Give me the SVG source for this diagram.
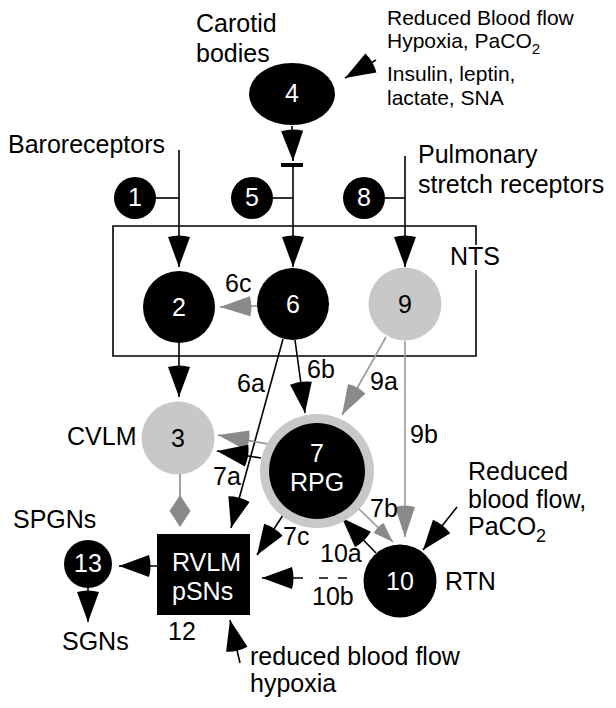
<svg xmlns="http://www.w3.org/2000/svg" width="616" height="708" viewBox="0 0 616 708">
<style>
text{font-family:"Liberation Sans",Arial,sans-serif;font-size:25px;fill:#000}
.w{fill:#fff}
.s{font-size:21px}
.blk{fill:#000}
.gry{fill:#c8c8c8}
.ln{stroke:#000;stroke-width:1.6;fill:none}
.gl{stroke:#999;stroke-width:1.6;fill:none}
.gh{stroke:#8a8a8a;stroke-width:1.6;fill:none}
</style>
<defs>
<marker id="ah" viewBox="-33 -12 34 24" refX="0" refY="0" markerWidth="34" markerHeight="24" markerUnits="userSpaceOnUse" orient="auto"><path d="M0,0 L-30,-11 Q-33,0 -30,11 Z" fill="#000"/></marker>
<marker id="ag" viewBox="-33 -12 34 24" refX="0" refY="0" markerWidth="34" markerHeight="24" markerUnits="userSpaceOnUse" orient="auto"><path d="M0,0 L-30,-10 Q-33,0 -30,10 Z" fill="#8a8a8a"/></marker>
<marker id="as" viewBox="-23 -8 24 16" refX="0" refY="0" markerWidth="24" markerHeight="16" markerUnits="userSpaceOnUse" orient="auto"><path d="M0,0 L-20,-7 Q-22,0 -20,7 Z" fill="#8a8a8a"/></marker>
</defs>

<g id="nts-box">
<path class="ln" d="M476,245 V226 H113 V356 H476 V270"/>
<text x="450" y="265">NTS</text>
</g>

<g id="connectors">
<line class="ln" x1="179" y1="150" x2="179" y2="267" marker-end="url(#ah)"/>
<line class="ln" x1="156" y1="198" x2="179" y2="198"/>
<line class="ln" x1="292" y1="126" x2="293" y2="161" marker-end="url(#ah)"/>
<rect x="281" y="163" width="22" height="4" fill="#000"/>
<line class="ln" x1="293" y1="165" x2="293" y2="267" marker-end="url(#ah)"/>
<line class="ln" x1="273" y1="198" x2="293" y2="198"/>
<line class="ln" x1="405" y1="156" x2="405" y2="267" marker-end="url(#ah)"/>
<line class="ln" x1="385" y1="198" x2="405" y2="198"/>
<line class="ln" x1="376" y1="60" x2="345" y2="78" marker-end="url(#ah)"/>
<line class="gh" x1="257" y1="306" x2="220" y2="307" marker-end="url(#ag)"/>
<line class="ln" x1="179" y1="343" x2="179" y2="397" marker-end="url(#ah)"/>
<line class="ln" x1="283" y1="339" x2="231" y2="528" marker-end="url(#ah)"/>
<line class="ln" x1="295" y1="340" x2="305" y2="413" marker-end="url(#ah)"/>
<line class="gl" x1="386" y1="337" x2="342" y2="415" marker-end="url(#ag)"/>
<line class="gl" x1="405" y1="341" x2="405" y2="537" marker-end="url(#ag)"/>
<line class="gh" x1="268" y1="444" x2="218" y2="435" marker-end="url(#ag)"/>
<line class="ln" x1="261" y1="458" x2="217" y2="451" marker-end="url(#ah)"/>
<line class="gh" x1="180" y1="474" x2="180" y2="496"/>
<polygon points="180,495 190.5,511 180,527 169.5,511" fill="#8a8a8a"/>
<line class="ln" x1="285" y1="512" x2="257" y2="555" marker-end="url(#ah)"/>
<line class="ln" x1="157" y1="566" x2="119" y2="566" marker-end="url(#ah)"/>
<line class="ln" x1="88" y1="588" x2="88" y2="622" marker-end="url(#ah)"/>
<line class="ln" x1="240" y1="663" x2="230" y2="620" marker-end="url(#ah)"/>
<line class="ln" x1="303" y1="578" x2="262" y2="578" marker-end="url(#ah)"/>
<path class="ln" d="M319,578 H328 M338,578 H347"/>
<line class="ln" x1="376" y1="553" x2="342" y2="518" marker-end="url(#ah)"/>
<line class="gl" x1="357" y1="507" x2="393" y2="542" marker-end="url(#as)"/>
<line class="ln" x1="457" y1="507" x2="423" y2="550" marker-end="url(#ah)"/>
</g>

<g id="labels">
<text x="8" y="153">Baroreceptors</text>
<text x="196" y="32">Carotid</text>
<text x="196" y="62">bodies</text>
<text class="s" x="387" y="25">Reduced Blood flow</text>
<text class="s" x="387" y="48">Hypoxia, PaCO<tspan font-size="15" dy="6">2</tspan></text>
<text class="s" x="387" y="81">Insulin, leptin,</text>
<text class="s" x="387" y="105">lactate, SNA</text>
<text x="418" y="163">Pulmonary</text>
<text x="418" y="193">stretch receptors</text>
<text x="225" y="292" font-size="24">6c</text>
<text x="237" y="392" font-size="24">6a</text>
<text x="307" y="378" font-size="24">6b</text>
<text x="370" y="390" font-size="24">9a</text>
<text x="410" y="443" font-size="24">9b</text>
<text x="213" y="485" font-size="24">7a</text>
<text x="370" y="517" font-size="24">7b</text>
<text x="283" y="545" font-size="24">7c</text>
<text x="320" y="562" font-size="24">10a</text>
<text x="312" y="605" font-size="24">10b</text>
<text x="67" y="445">CVLM</text>
<text x="445" y="590">RTN</text>
<text x="468" y="480">Reduced</text>
<text x="468" y="508">blood flow,</text>
<text x="468" y="535">PaCO<tspan font-size="18" dy="7">2</tspan></text>
<text x="13" y="528">SPGNs</text>
<text x="62" y="650">SGNs</text>
<text x="168" y="640" font-size="24">12</text>
<text x="250" y="665">reduced blood flow</text>
<text x="250" y="692">hypoxia</text>
</g>

<g id="node-1"><circle class="blk" cx="135" cy="198" r="21"/><text class="w" x="135" y="206" text-anchor="middle" font-size="23">1</text></g>
<g id="node-5"><circle class="blk" cx="252" cy="198" r="21"/><text class="w" x="252" y="206" text-anchor="middle" font-size="23">5</text></g>
<g id="node-8"><circle class="blk" cx="364" cy="198" r="21"/><text class="w" x="364" y="206" text-anchor="middle" font-size="23">8</text></g>
<g id="node-4"><ellipse class="blk" cx="292" cy="94" rx="43" ry="31"/><text class="w" x="292" y="102" text-anchor="middle" font-size="21">4</text></g>
<g id="node-2"><circle class="blk" cx="179" cy="307" r="36"/><text class="w" x="179" y="316" text-anchor="middle">2</text></g>
<g id="node-6"><circle class="blk" cx="293" cy="304" r="36"/><text class="w" x="293" y="313" text-anchor="middle">6</text></g>
<g id="node-9"><circle class="gry" cx="405" cy="304" r="36.5"/><text x="405" y="313" text-anchor="middle">9</text></g>
<g id="node-3"><circle class="gry" cx="178" cy="438" r="36.5"/><text x="178" y="447" text-anchor="middle">3</text></g>
<g id="node-7"><circle class="gry" cx="317" cy="471" r="57"/><circle class="blk" cx="317" cy="471" r="48"/><text class="w" x="317" y="462" text-anchor="middle">7</text><text class="w" x="317" y="491" text-anchor="middle">RPG</text></g>
<g id="node-12"><rect class="blk" x="157" y="534" width="93" height="81"/><text class="w" x="172" y="571">RVLM</text><text class="w" x="172" y="600">pSNs</text></g>
<g id="node-13"><circle class="blk" cx="88" cy="564" r="24"/><text class="w" x="88" y="572" text-anchor="middle" font-size="22">13</text></g>
<g id="node-10"><circle class="blk" cx="400" cy="581" r="36.5"/><text class="w" x="400" y="590" text-anchor="middle">10</text></g>
</svg>
